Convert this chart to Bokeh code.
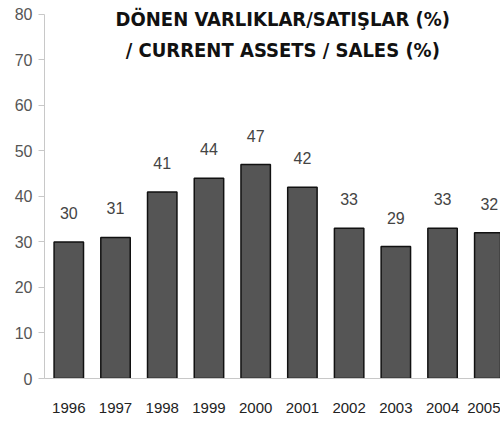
from bokeh.plotting import figure
from bokeh.models import Range1d, FixedTicker, Label, ColumnDataSource
from bokeh.embed import file_html
from bokeh.resources import INLINE
from bokeh.core.properties import value

years = ["1996", "1997", "1998", "1999", "2000", "2001", "2002", "2003", "2004", "2005"]
ratios = [30, 31, 41, 44, 47, 42, 33, 29, 33, 32]
y_ticks = [0, 10, 20, 30, 40, 50, 60, 70, 80]
title_lines = ["DÖNEN VARLIKLAR/SATIŞLAR (%)", "/ CURRENT ASSETS / SALES (%)"]

idx = list(range(len(years)))
src = ColumnDataSource(dict(x=idx, top=ratios, lab=[str(v) for v in ratios]))

p = figure(width=500, height=415, output_backend="svg", toolbar_location=None,
           x_range=Range1d(-0.52, 9.24), y_range=Range1d(0, 82.18),
           min_border_left=44, min_border_right=0, min_border_top=4, min_border_bottom=34)
p.outline_line_color = None
p.grid.grid_line_color = None
p.background_fill_color = "white"

p.vbar(x="x", top="top", width=0.63, source=src, fill_color="#555555",
       line_color="#111111", line_width=1.5)
p.text(x="x", y="top", text="lab", source=src, text_align="center",
       text_baseline="middle", y_offset=-29, text_font=value("Liberation Sans"),
       text_font_size="16px", text_color="#444444")

p.yaxis.ticker = FixedTicker(ticks=y_ticks)
p.yaxis.bounds = (0, 80)
p.yaxis.axis_line_color = "#c8c8c8"
p.yaxis.major_tick_line_color = "#c8c8c8"
p.yaxis.major_tick_out = 6
p.yaxis.major_tick_in = 0
p.yaxis.minor_tick_line_color = None
p.yaxis.major_label_text_font = "Liberation Sans"
p.yaxis.major_label_text_font_size = "16px"
p.yaxis.major_label_text_color = "#555555"
p.yaxis.major_label_standoff = 6

p.xaxis.ticker = FixedTicker(ticks=idx)
p.xaxis.major_label_overrides = {i: y for i, y in zip(idx, years)}
p.xaxis.axis_line_color = "#c8c8c8"
p.xaxis.major_tick_line_color = None
p.xaxis.minor_tick_line_color = None
p.xaxis.major_label_text_font = "Liberation Sans"
p.xaxis.major_label_text_font_size = "15px"
p.xaxis.major_label_text_color = "#222222"
p.xaxis.major_label_standoff = 18

for line, yv in zip(title_lines, [79.1, 72.2]):
    p.add_layout(Label(x=4.58, y=yv, text=line, text_align="center", text_baseline="middle",
                       text_font="DejaVu Sans Condensed", text_font_style="bold",
                       text_font_size="20px", text_color="#111111"))

open("out.html", "w").write(file_html(p, INLINE))
